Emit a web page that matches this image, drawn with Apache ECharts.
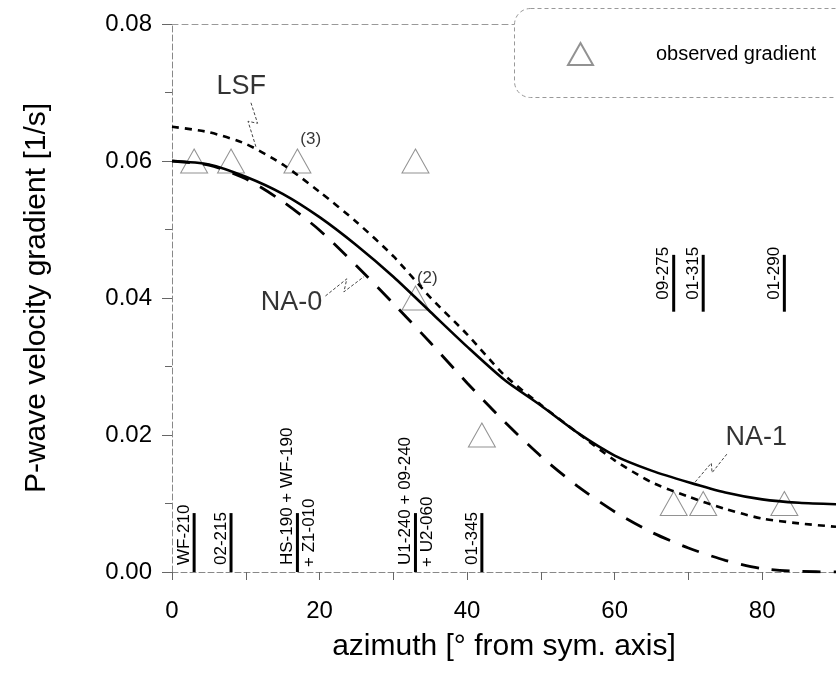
<!DOCTYPE html>
<html>
<head>
<meta charset="utf-8">
<script src="https://cdn.jsdelivr.net/npm/echarts@6/dist/echarts.min.js"></script>
<style>
html,body{margin:0;padding:0;background:#fff;}
#chart{width:836px;height:687px;}
</style>
</head>
<body>
<div id="chart"></div>
<script>
// ---- data ----
const azimuthGrid = [0,5,10,15,20,25,30,35,40,45,50,55,60,65,70,75,80,85,90];
const lsfValues  = [0.0650,0.0642,0.0625,0.0595,0.0555,0.0511,0.0461,0.0401,0.0347,0.0288,0.0244,0.0203,0.0163,0.0131,0.0110,0.0092,0.0078,0.0071,0.0066];
const na1Values  = [0.0600,0.0595,0.0577,0.0552,0.0518,0.0477,0.0431,0.0380,0.0329,0.0281,0.0243,0.0203,0.0170,0.0148,0.0131,0.0116,0.0106,0.0101,0.0099];
const na0Values  = [0.0600,0.0594,0.0574,0.0541,0.0499,0.0447,0.0392,0.0335,0.0276,0.0220,0.0169,0.0125,0.0088,0.0058,0.0035,0.0017,0.0005,0.0001,0.0000];

const observedAz   = [3, 8, 17, 33, 33, 42, 68, 72, 83];
const observedGrad = [0.06, 0.06, 0.06, 0.06, 0.04, 0.02, 0.01, 0.01, 0.01];

const lowerAz = [3, 8, 17, 33, 42];
const lowerLeftLabels  = ['WF-210', '02-215', 'HS-190 + WF-190', 'U1-240 + 09-240', '01-345'];
const lowerRightLabels = ['', '', '+ Z1-010', '+ U2-060', ''];
const lowerBarRange = [0, 0.0086];

const upperAz = [68, 72, 83];
const upperLabels = ['09-275', '01-315', '01-290'];
const upperBarRange = [0.038, 0.0463];

const curveNames = ['LSF', 'NA-0', 'NA-1'];
const curveLabelPos = [[9.4, 0.0709], [16.2, 0.0393], [79.2, 0.0197]];
const pointNotes = ['(3)', '(2)'];
const pointNotePos = [[18.8, 0.0631], [34.6, 0.0429]];

const leaderLSF = [[10.7, 0.0685], [11.6, 0.0655], [10.3, 0.0658], [11.4, 0.0620]];
const leaderNA0 = [[20.8, 0.0403], [23.7, 0.0428], [23.3, 0.0409], [26.0, 0.0431]];
const leaderNA1 = [[75.2, 0.0172], [73.2, 0.0145], [73.1, 0.0159], [70.8, 0.0130]];

const xTicks = { min: 0, max: 90, interval: 20 };
const yTicks = { min: 0, max: 0.08, interval: 0.02 };

// ---- build ----
const FONT = '"Liberation Sans", Arial, sans-serif';
const zip = (xs, ys) => xs.map((x, i) => [x, ys[i]]);

function markerRenderer(labelsL, labelsR, textOffset) {
  return function (params, api) {
    const x = api.value(0), y0 = api.value(1), y1 = api.value(2);
    const p0 = api.coord([x, y0]);
    const p1 = api.coord([x, y1]);
    const children = [{
      type: 'line',
      shape: { x1: p0[0], y1: p0[1], x2: p1[0], y2: p1[1] },
      style: { stroke: '#000', lineWidth: 3 }
    }, {
      type: 'text', x: p0[0] - 1.5, y: p0[1] - textOffset, rotation: Math.PI / 2,
      style: { text: labelsL[params.dataIndex], align: 'left', verticalAlign: 'bottom',
               font: '17px ' + FONT, fill: '#000' }
    }];
    if (labelsR && labelsR[params.dataIndex]) {
      children.push({
        type: 'text', x: p0[0] + 3, y: p0[1] - textOffset + 2, rotation: Math.PI / 2,
        style: { text: labelsR[params.dataIndex], align: 'left', verticalAlign: 'top',
                 font: '17px ' + FONT, fill: '#000' }
      });
    }
    return { type: 'group', children };
  };
}

const leaderStyle = { color: '#444', width: 1, type: [3, 2] };
function leader(pts) {
  return { type: 'line', data: pts, symbol: 'none', silent: true, z: 4,
           lineStyle: leaderStyle, animation: false };
}

const option = {
  animation: false,
  backgroundColor: '#fff',
  grid: { left: 172, right: 0, top: 24, bottom: 115 },
  legend: {
    data: ['observed gradient'],
    left: 562, top: 37,
    icon: 'triangle', itemWidth: 25, itemHeight: 22,
    textStyle: { fontFamily: FONT, fontSize: 20, color: '#000', padding: [0, 0, 0, 58] },
    z: 20
  },
  graphic: [{
    type: 'rect', left: 514, top: 8, z: 10,
    shape: { width: 340, height: 89, r: 16 },
    style: { fill: '#fff', stroke: '#999', lineWidth: 1, lineDash: [4, 3] }
  }],
  xAxis: [{
    type: 'value', min: xTicks.min, max: xTicks.max, interval: xTicks.interval,
    name: 'azimuth [° from sym. axis]', nameLocation: 'middle', nameGap: 60,
    nameTextStyle: { fontFamily: FONT, fontSize: 30, color: '#000' },
    axisLine: { lineStyle: { color: '#888', width: 1, type: [6, 3] } },
    axisTick: { show: true, length: 8, lineStyle: { color: '#666' } },
    minorTick: { show: true, splitNumber: 2, length: 8, lineStyle: { color: '#666' } },
    axisLabel: { fontFamily: FONT, fontSize: 24, color: '#000', margin: 27, showMaxLabel: false },
    splitLine: { show: false }
  }, {
    type: 'value', position: 'top', min: xTicks.min, max: xTicks.max,
    axisLine: { show: true, lineStyle: { color: '#999', width: 1, type: [6, 4] } },
    axisTick: { show: false }, axisLabel: { show: false }, splitLine: { show: false }
  }],
  yAxis: {
    type: 'value', min: yTicks.min, max: yTicks.max, interval: yTicks.interval,
    name: 'P-wave velocity gradient [1/s]', nameLocation: 'middle', nameGap: 120,
    nameTextStyle: { fontFamily: FONT, fontSize: 30, color: '#000' },
    axisLine: { show: true, lineStyle: { color: '#888', width: 1, type: [6, 3] } },
    axisTick: { show: true, length: 10, lineStyle: { color: '#666' } },
    minorTick: { show: true, splitNumber: 2, length: 7, lineStyle: { color: '#666' } },
    axisLabel: { fontFamily: FONT, fontSize: 24, color: '#000', margin: 20,
                 formatter: v => v.toFixed(2) },
    splitLine: { show: false }
  },
  series: [
    {
      name: 'observed gradient', type: 'scatter', data: zip(observedAz, observedGrad),
      symbol: 'triangle', symbolSize: [27, 24], z: 2,
      itemStyle: { color: 'rgba(255,255,255,0)', borderColor: '#777', borderWidth: 1 }
    },
    {
      name: 'LSF', type: 'line', data: zip(azimuthGrid, lsfValues), symbol: 'none',
      smooth: 0.25, z: 3,
      lineStyle: { color: '#000', width: 2.6, type: [7, 6] }
    },
    {
      name: 'NA-1', type: 'line', data: zip(azimuthGrid, na1Values), symbol: 'none',
      smooth: 0.25, z: 3,
      lineStyle: { color: '#000', width: 2.6 }
    },
    {
      name: 'NA-0', type: 'line', data: zip(azimuthGrid, na0Values), symbol: 'none',
      smooth: 0.25, z: 3,
      lineStyle: { color: '#000', width: 2.8, type: [18, 13] }
    },
    {
      type: 'custom', renderItem: markerRenderer(lowerLeftLabels, lowerRightLabels, 7),
      data: lowerAz.map(a => [a, lowerBarRange[0], lowerBarRange[1]]),
      encode: { x: 0, y: [1, 2] }, z: 5, silent: true
    },
    {
      type: 'custom', renderItem: markerRenderer(upperLabels, null, 12),
      data: upperAz.map(a => [a, upperBarRange[0], upperBarRange[1]]),
      encode: { x: 0, y: [1, 2] }, z: 5, silent: true
    },
    {
      type: 'scatter', data: curveLabelPos.map((p, i) => ({ value: p, name: curveNames[i] })),
      symbolSize: 0, silent: true, z: 6,
      label: { show: true, position: 'inside', formatter: '{b}',
               fontFamily: FONT, fontSize: 27, color: '#000' }
    },
    {
      type: 'scatter', data: pointNotePos.map((p, i) => ({ value: p, name: pointNotes[i] })),
      symbolSize: 0, silent: true, z: 6,
      label: { show: true, position: 'inside', formatter: '{b}',
               fontFamily: FONT, fontSize: 17, color: '#000' }
    },
    leader(leaderLSF), leader(leaderNA0), leader(leaderNA1)
  ]
};

const chart = echarts.init(document.getElementById('chart'), null, { renderer: 'canvas' });
chart.setOption(option);
</script>
</body>
</html>
